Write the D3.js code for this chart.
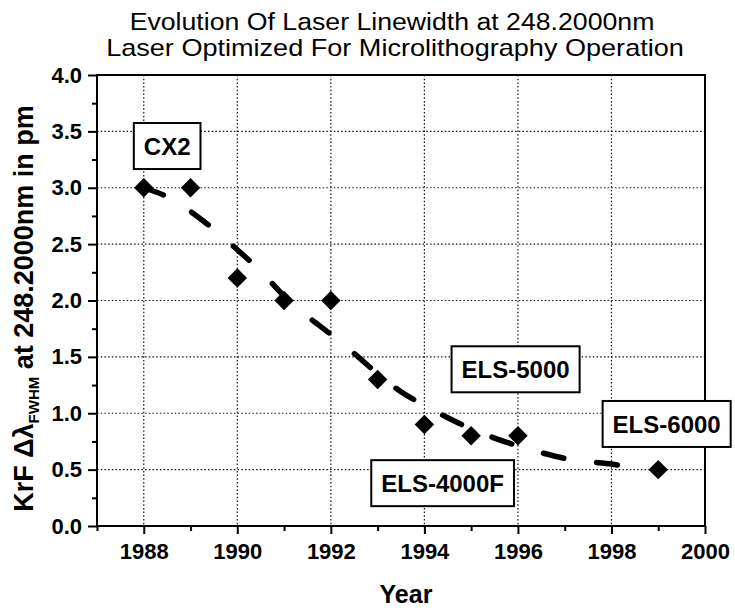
<!DOCTYPE html>
<html>
<head>
<meta charset="utf-8">
<script src="https://cdn.jsdelivr.net/npm/d3@7"></script>
<style>
  html, body { margin: 0; padding: 0; background: #fff; }
  svg { display: block; }
  text { font-family: Arial, "Liberation Sans", sans-serif; fill: #000; }
</style>
</head>
<body>
<svg id="chart" width="735" height="610"></svg>
<script>
// ---------------- data ----------------
const years = [1988, 1989, 1990, 1991, 1992, 1993, 1994, 1995, 1996, 1999];
const linewidths = [3.0, 3.0, 2.2, 2.0, 2.0, 1.3, 0.9, 0.8, 0.8, 0.5];

// dashed trend curve
const trendYears = [1988, 1988.5, 1989, 1989.5, 1990, 1990.5, 1991, 1991.5, 1992, 1992.5, 1993, 1993.5, 1994, 1994.5, 1995, 1995.5, 1996, 1996.5, 1997, 1997.5, 1998, 1998.4];
const trendValues = [3.0, 2.92, 2.79, 2.63, 2.45, 2.26, 2.04, 1.86, 1.70, 1.53, 1.35, 1.19, 1.07, 0.96, 0.86, 0.78, 0.71, 0.65, 0.60, 0.57, 0.55, 0.52];

const xTickValues = [1988, 1990, 1992, 1994, 1996, 1998, 2000];
const xMinorTicks = [1987, 1989, 1991, 1993, 1995, 1997, 1999];
const yTickValues = [0.0, 0.5, 1.0, 1.5, 2.0, 2.5, 3.0, 3.5, 4.0];
const yMinorTicks = [0.25, 0.75, 1.25, 1.75, 2.25, 2.75, 3.25, 3.75];

const labelTexts = ["CX2", "ELS-5000", "ELS-6000", "ELS-4000F"];
const labelYears = [1988.5, 1995.95, 1999.18, 1994.39];
const labelValues = [3.37, 1.39, 0.905, 0.38];

const titleLines = ["Evolution Of Laser Linewidth at 248.2000nm", "Laser Optimized For Microlithography Operation"];
const xTitle = "Year";

// ---------------- layout ----------------
const svg = d3.select("#chart");
const pL = 97, pR = 705, pT = 75, pB = 526;

const x = d3.scaleLinear().domain([1987, 2000]).range([pL, pR]);
const y = d3.scaleLinear().domain([0, 4]).range([pB, pT]);

// grid
const grid = svg.append("g").attr("stroke", "#111").attr("stroke-width", 1.2).attr("stroke-dasharray", "1.5,2.2");
grid.selectAll(".gx").data(xTickValues.filter(v => v < 2000)).join("line")
  .attr("x1", d => x(d)).attr("x2", d => x(d)).attr("y1", pT).attr("y2", pB);
grid.selectAll(".gy").data(yTickValues.filter(v => v > 0 && v < 4)).join("line")
  .attr("y1", d => y(d)).attr("y2", d => y(d)).attr("x1", pL).attr("x2", pR);

// axes
const xAxis = d3.axisBottom(x).tickValues(xTickValues).tickFormat(d3.format("d")).tickSize(8).tickPadding(9);
const gx = svg.append("g").attr("transform", `translate(0,${pB})`).call(xAxis);
gx.select(".domain").remove();
gx.selectAll(".tick line").attr("stroke-width", 2);
gx.selectAll(".tick text").attr("font-size", 22).attr("font-weight", "bold").attr("font-family", "Arial, 'Liberation Sans', sans-serif").attr("dy", "0.71em");
const gxm = svg.append("g").attr("transform", `translate(0,${pB})`)
  .call(d3.axisBottom(x).tickValues(xMinorTicks).tickSize(5).tickFormat(""));
gxm.select(".domain").remove();
gxm.selectAll(".tick line").attr("stroke-width", 2);

const yAxis = d3.axisLeft(y).tickValues(yTickValues).tickFormat(d3.format(".1f")).tickSize(9).tickPadding(6);
const gy = svg.append("g").attr("transform", `translate(${pL},0)`).call(yAxis);
gy.select(".domain").remove();
gy.selectAll(".tick line").attr("stroke-width", 2);
gy.selectAll(".tick text").attr("font-size", 22).attr("font-weight", "bold").attr("font-family", "Arial, 'Liberation Sans', sans-serif");
const gym = svg.append("g").attr("transform", `translate(${pL},0)`)
  .call(d3.axisLeft(y).tickValues(yMinorTicks).tickSize(5).tickFormat(""));
gym.select(".domain").remove();
gym.selectAll(".tick line").attr("stroke-width", 2);

// frame
svg.append("rect").attr("x", pL).attr("y", pT).attr("width", pR - pL).attr("height", pB - pT)
  .attr("fill", "none").attr("stroke", "#000").attr("stroke-width", 2);

// trend line
const trend = trendYears.map((t, i) => [t, trendValues[i]]);
svg.append("path").datum(trend)
  .attr("d", d3.line().x(d => x(d[0])).y(d => y(d[1])).curve(d3.curveMonotoneX))
  .attr("fill", "none").attr("stroke", "#000").attr("stroke-width", 5.5)
  .attr("stroke-linecap", "round").attr("stroke-dasharray", "21,33");

// diamonds
const pts = years.map((yr, i) => [yr, linewidths[i]]);
svg.append("g").selectAll("path").data(pts).join("path")
  .attr("transform", d => `translate(${x(d[0])},${y(d[1])})`)
  .attr("d", d3.symbol().type(d3.symbolDiamond2).size(242))
  .attr("fill", "#000");

// labels
const labels = svg.append("g");
labelTexts.forEach((t, i) => {
  const cx = x(labelYears[i]), cy = y(labelValues[i]);
  const g = labels.append("g");
  const rect = g.append("rect");
  const txt = g.append("text").attr("x", cx).attr("y", cy).attr("text-anchor", "middle").attr("dy", "0.36em")
    .attr("font-size", 24).attr("font-weight", "bold").text(t);
  const w = txt.node().getComputedTextLength() + 20;
  rect.attr("x", cx - w / 2).attr("y", cy - 23).attr("width", w).attr("height", 46)
    .attr("fill", "#fff").attr("stroke", "#000").attr("stroke-width", 2);
});

// titles (horizontally stretched to match the original's wide lettering)
const titleSpecs = [[392, 30, 525], [395, 56, 578]];
titleLines.forEach((t, i) => {
  const [cx, by, wTarget] = titleSpecs[i];
  const tt = svg.append("text").attr("x", 0).attr("y", 0).attr("text-anchor", "middle").attr("font-size", 23).text(t);
  const natural = tt.node().getComputedTextLength();
  tt.attr("transform", `translate(${cx},${by}) scale(${wTarget / natural},1)`);
});

svg.append("text").attr("x", 406).attr("y", 603).attr("text-anchor", "middle")
  .attr("font-size", 25).attr("font-weight", "bold").text(xTitle);

// y title
const yt = svg.append("text").attr("transform", `translate(33,${(pT + pB) / 2 + 8}) rotate(-90)`)
  .attr("text-anchor", "middle").attr("font-size", 27).attr("font-weight", "bold");
yt.append("tspan").text("KrF \u0394\u03BB");
yt.append("tspan").attr("font-size", 15).attr("dy", 6).text("FWHM");
yt.append("tspan").attr("dy", -6).text(" at 248.2000nm in pm");
</script>
</body>
</html>
